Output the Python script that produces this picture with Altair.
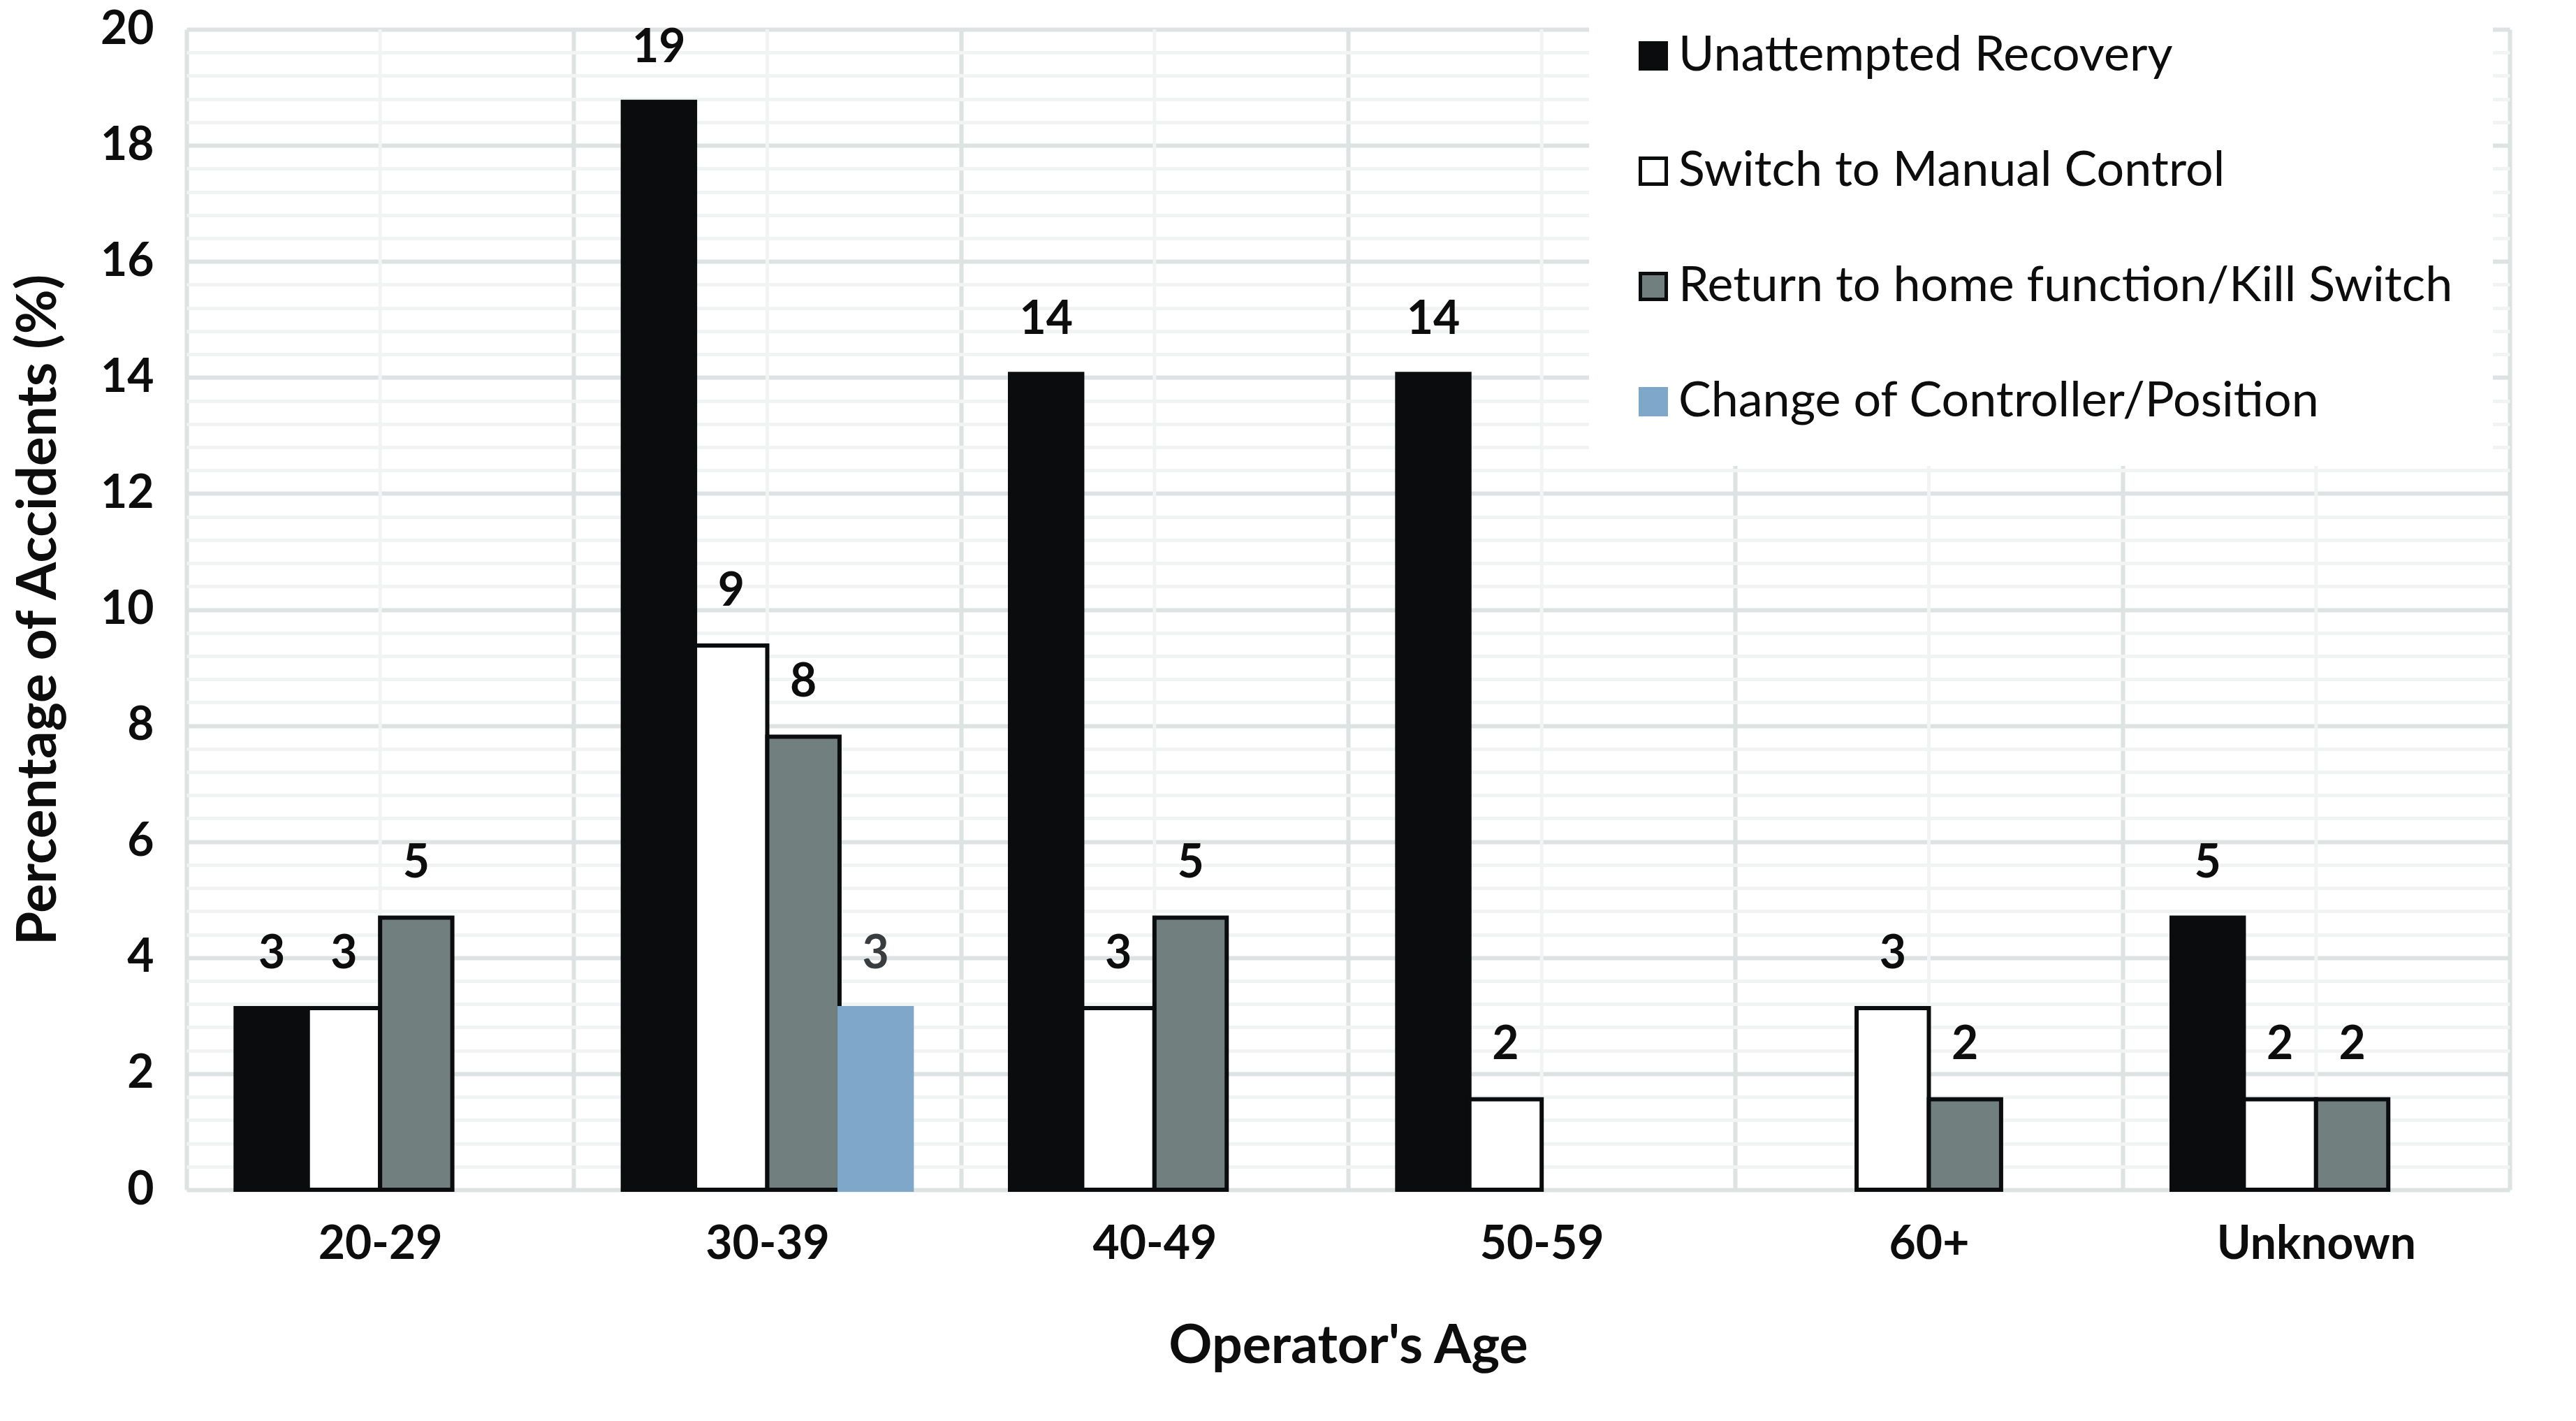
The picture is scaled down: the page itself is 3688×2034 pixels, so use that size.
import altair as alt
import pandas as pd

categories = ["20-29", "30-39", "40-49", "50-59", "60+", "Unknown"]
series = [
    "Unattempted Recovery",
    "Switch to Manual Control",
    "Return to home function/Kill Switch",
    "Change of Controller/Position",
]
unattempted = [3.13, 18.75, 14.06, 14.06, 0, 4.69]
manual = [3.13, 9.38, 3.13, 1.56, 3.13, 1.56]
return_home = [4.69, 7.81, 4.69, 0, 1.56, 1.56]
change_ctrl = [0, 3.13, 0, 0, 0, 0]

y_ticks = [round(i * 0.4, 1) for i in range(51)]

rows = []
for s, vals in zip(series, [unattempted, manual, return_home, change_ctrl]):
    for c, v in zip(categories, vals):
        rows.append({"category": c, "series": s, "value": v})
df = pd.DataFrame(rows)
cat_df = pd.DataFrame({"category": categories})

BLACK = "#0b0c0d"
GRAY = "#717f7f"
BLUE = "#7fa7c9"
TXT = "#0d0d0d"
MAJOR = "#dde2e2"
MINOR = "#f2f4f4"

X = alt.X(
    "category:N",
    scale=alt.Scale(domain=categories, paddingInner=0, paddingOuter=0),
    axis=alt.Axis(
        title="Operator's Age",
        tickBand="extent",
        grid=True,
        gridColor=MAJOR,
        gridWidth=6,
        ticks=False,
        tickSize=0,
        domain=False,
        labelAngle=0,
        labelLimit=1000,
        labelFont="Lato",
        labelFontWeight="bold",
        labelFontSize=66,
        labelColor=TXT,
        labelPadding=46,
        titleFont="Lato",
        titleFontWeight="bold",
        titleFontSize=77,
        titleColor=TXT,
        titlePadding=75,
    ),
)

Y = alt.Y(
    "value:Q",
    scale=alt.Scale(domain=[0, 20], nice=False, zero=True),
    axis=alt.Axis(
        title="Percentage of Accidents (%)",
        values=y_ticks,
        format=".0f",
        grid=True,
        gridColor={"condition": {"test": "datum.value % 2 === 0", "value": MAJOR}, "value": MINOR},
        gridWidth={"condition": {"test": "datum.value % 2 === 0", "value": 6}, "value": 5},
        labelExpr="datum.value % 2 === 0 ? datum.label : ''",
        labelOverlap=False,
        ticks=False,
        tickSize=0,
        domain=False,
        labelFont="Lato",
        labelFontWeight="bold",
        labelFontSize=66,
        labelColor=TXT,
        labelPadding=47,
        titleFont="Lato",
        titleFontWeight="bold",
        titleFontSize=78,
        titleColor=TXT,
        titlePadding=48,
    ),
)

XO = alt.XOffset(
    "series:N",
    scale=alt.Scale(domain=series, paddingInner=0, paddingOuter=0.68),
)

legend = alt.Legend(
    title=None,
    orient="none",
    legendX=2008,
    legendY=-54,
    direction="vertical",
    fillColor="white",
    padding=57,
    symbolType="square",
    symbolSize=1369,
    symbolStrokeWidth=5,
    labelFont="Lato",
    labelFontSize=70,
    labelColor=TXT,
    labelOffset=1,
    labelLimit=3000,
    rowPadding=95,
)

center_rules = alt.Chart(cat_df).mark_rule(color=MINOR, strokeWidth=5).encode(x=X)

bars = (
    alt.Chart(df)
    .transform_filter("datum.value > 0")
    .mark_bar(strokeWidth=6, strokeJoin="miter")
    .encode(
        x=X,
        xOffset=XO,
        y=Y,
        fill=alt.Fill(
            "series:N",
            scale=alt.Scale(domain=series, range=[BLACK, "#ffffff", GRAY, BLUE]),
            legend=legend,
        ),
        stroke=alt.Stroke(
            "series:N",
            scale=alt.Scale(domain=series, range=[BLACK, BLACK, BLACK, BLUE]),
            legend=legend,
        ),
    )
)

labels = (
    alt.Chart(df)
    .transform_filter("datum.value > 0")
    .mark_text(baseline="alphabetic", align="center", dy=-57, font="Lato", fontWeight="bold", fontSize=66)
    .encode(
        x=X,
        xOffset=XO,
        y=Y,
        text=alt.Text("value:Q", format=".0f"),
        color=alt.condition(
            "datum.series === 'Change of Controller/Position'",
            alt.value("#3a3d3f"),
            alt.value(TXT),
        ),
    )
)

chart = (
    alt.layer(center_rules, bars, labels)
    .properties(
        width=3326,
        height=1661,
        autosize=alt.AutoSizeParams(type="none"),
        padding={"left": 259, "top": 34, "right": 87, "bottom": 323},
    )
    .configure(font="Lato")
    .configure_view(strokeWidth=0)
)

chart.save("out.html", embed_options={"renderer": "svg", "actions": False})
